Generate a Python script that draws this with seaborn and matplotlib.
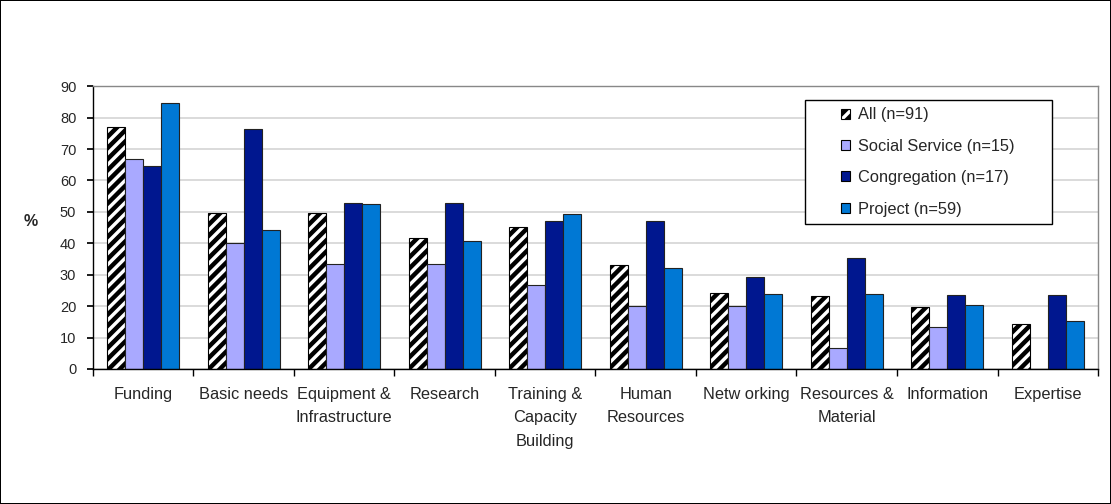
import numpy as np
import pandas as pd
import matplotlib
matplotlib.use("Agg")
import matplotlib.pyplot as plt
from matplotlib.patches import Patch, Rectangle
import seaborn as sns

categories = ["Funding", "Basic needs", "Equipment &\nInfrastructure", "Research",
              "Training &\nCapacity\nBuilding", "Human\nResources", "Netw orking",
              "Resources &\nMaterial", "Information", "Expertise"]
series_names = ["All (n=91)", "Social Service (n=15)", "Congregation (n=17)", "Project (n=59)"]
all_vals = [76.9, 49.5, 49.5, 41.8, 45.1, 33.0, 24.2, 23.1, 19.8, 14.3]
social_vals = [66.7, 40.0, 33.3, 33.3, 26.7, 20.0, 20.0, 6.7, 13.3, 0.0]
congregation_vals = [64.7, 76.5, 52.9, 52.9, 47.1, 47.1, 29.4, 35.3, 23.5, 23.5]
project_vals = [84.7, 44.1, 52.5, 40.7, 49.2, 32.2, 23.7, 23.7, 20.3, 15.3]
y_ticks = list(range(0, 91, 10))

colors = ["white", "#A9A9FF", "#00178F", "#0078D4"]

sns.set_theme(style="white")
plt.rcParams["font.family"] = ["Liberation Sans", "DejaVu Sans"]
plt.rcParams["hatch.linewidth"] = 3.2

df = pd.DataFrame({
    "category": np.tile(categories, 4),
    "series": np.repeat(series_names, len(categories)),
    "value": np.concatenate([all_vals, social_vals, congregation_vals, project_vals]),
})

fig = plt.figure(figsize=(11.11, 5.04), dpi=100, edgecolor="black", linewidth=1.2)
ax = fig.add_axes([0.0837, 0.268, 0.9046, 0.561])

sns.barplot(data=df, x="category", y="value", hue="series", order=categories,
            hue_order=series_names, palette=colors, width=0.72, saturation=1,
            edgecolor="black", linewidth=0.8, ax=ax, legend=False)

n = len(categories)
for i, bar in enumerate(ax.patches[:4 * n]):
    if i < n:
        bar.set_hatch("///")
        bar.set_edgecolor("black")
    else:
        bar.set_edgecolor("#222222")

ax.set_ylim(0, 90)
ax.set_xlim(-0.5, n - 0.5)
ax.set_yticks(y_ticks)
ax.set_yticklabels([str(t) for t in y_ticks], fontsize=10.5)
ax.yaxis.grid(True, color="#D4D4D4", linewidth=1.2)
ax.set_axisbelow(True)

ax.set_xticks(np.arange(n))
ax.set_xticklabels(categories, fontsize=11.8, linespacing=1.7, va="top")
ax.tick_params(axis="x", length=0, pad=13)
ax.tick_params(axis="y", length=4, direction="out", color="black", left=True, pad=8)
# tick marks on the category boundaries
ax.set_xticks(np.arange(n + 1) - 0.5, minor=True)
ax.tick_params(axis="x", which="minor", length=5, direction="out", color="black", bottom=True)

ax.set_xlabel("")
ax.set_ylabel("%", rotation=0, fontsize=11.5, fontweight="bold", va="center", ha="center")
ax.yaxis.set_label_coords(-0.0615, 0.52)

for side in ["top", "right"]:
    ax.spines[side].set_color("#888888")
    ax.spines[side].set_linewidth(1)
for side in ["left", "bottom"]:
    ax.spines[side].set_color("black")
    ax.spines[side].set_linewidth(1)

# legend box drawn as its own frame, entries placed inside it
ax.add_patch(Rectangle((0.7085, 0.5124), 0.2458, 0.4381, transform=ax.transAxes,
                       facecolor="white", edgecolor="black", linewidth=1, zorder=5,
                       clip_on=False))
handles = [Patch(facecolor=c, edgecolor="black", hatch=("///" if i == 0 else None), linewidth=0.8)
           for i, c in enumerate(colors)]
leg = ax.legend(handles, series_names, loc="upper left", bbox_to_anchor=(0.744, 0.925),
                frameon=False, fontsize=11.8, handlelength=0.55, handleheight=0.55,
                labelspacing=1.0, borderpad=0, handletextpad=0.5, borderaxespad=0)
leg.set_zorder(6)

fig.savefig("out.png", dpi=100)
